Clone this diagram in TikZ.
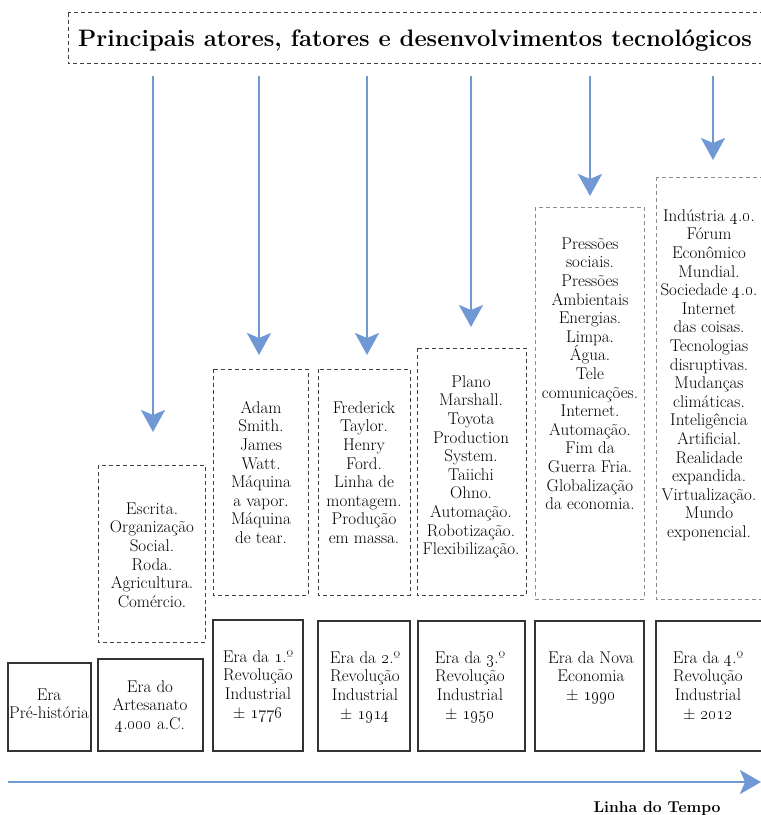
\documentclass[tikz,border=0pt]{standalone}
\usetikzlibrary{arrows.meta}
\definecolor{arrowblue}{RGB}{112,152,212}
\newcommand{\osn}[1]{\oldstylenums{#1}}
\begin{document}
\begin{tikzpicture}[x=1pt,y=-1pt,
  txt/.style={align=center,inner sep=0pt,anchor=north,
    font=\fontsize{17}{18.6}\selectfont},
  erabox/.style={draw=black!80,line width=1.1pt},
  factbox/.style={draw=black!75,line width=0.9pt,dash pattern=on 4pt off 3pt},
  lightbox/.style={draw=black!45,line width=0.9pt,dash pattern=on 4pt off 3pt},
  downarrow/.style={draw=arrowblue,line width=2.6pt,
    -{Stealth[length=22pt,width=24pt,inset=5pt]}},
  timearrow/.style={draw=arrowblue,line width=2.8pt,
    -{Stealth[length=21pt,width=24pt,inset=5pt]}}]
\useasboundingbox (0,0) rectangle (761,815);

% title
\draw[factbox] (68,12.5) rectangle (764,63.5);
\node[inner sep=0pt,anchor=base,font=\fontsize{23.8}{28}\selectfont\bfseries]
  (title) at (415,46) {Principais atores, fatores e desenvolvimentos tecnológicos};

% factor boxes
\draw[factbox] (98,465) rectangle (205,642);
\draw[factbox] (213,369) rectangle (308,595);
\draw[factbox] (318,369) rectangle (410,595);
\draw[factbox] (417,348) rectangle (526,595);
\draw[lightbox] (535,207) rectangle (644,599);
\draw[lightbox] (656,177) rectangle (764,599);

\node[txt] (fa) at (152,501) {\strut Escrita.\\Organização\\Social.\\Roda.\\Agricultura.\\Comércio.};
\node[txt] (fb) at (261,400) {\strut Adam\\Smith.\\James\\Watt.\\Máquina\\a vapor.\\Máquina\\de tear.};
\node[txt] (fc) at (364,400) {\strut Frederick\\Taylor.\\Henry\\Ford.\\Linha de\\montagem.\\Produção\\em massa.};
\node[txt] (fd) at (471,374) {\strut Plano\\Marshall.\\Toyota\\Production\\System.\\Taiichi\\Ohno.\\Automação.\\Robotização.\\Flexibilização.};
\node[txt] (fe) at (590,236) {\strut Pressões\\sociais.\\Pressões\\Ambientais\\Energias.\\Limpa.\\Água.\\Tele\\comunicações.\\Internet.\\Automação.\\Fim da\\Guerra Fria.\\Globalização\\da economia.};
\node[txt] (ff) at (709,208) {\strut Indústria \osn{4}.\osn{0}.\\Fórum\\Econômico\\Mundial.\\Sociedade \osn{4}.\osn{0}.\\Internet\\das coisas.\\Tecnologias\\disruptivas.\\Mudanças\\climáticas.\\Inteligência\\Artificial.\\Realidade\\expandida.\\Virtualização.\\Mundo\\exponencial.};

% era boxes
\draw[erabox] (8,663) rectangle (91,751);
\draw[erabox] (98,659) rectangle (203,751);
\draw[erabox] (213,620) rectangle (303,751);
\draw[erabox] (318,621) rectangle (410,751);
\draw[erabox] (418,621) rectangle (525,751);
\draw[erabox] (535,621) rectangle (644,751);
\draw[erabox] (656,621) rectangle (764,751);

\node[txt] (e1) at (49,687) {\strut Era\\Pré-história};
\node[txt] (e2) at (150,679) {\strut Era do\\Artesanato\\\osn{4}.\osn{000} a.C.};
\node[txt] (e3) at (258,649) {\strut Era da \osn{1}.º\\Revolução\\Industrial\\± \osn{1776}};
\node[txt] (e4) at (365,650) {\strut Era da \osn{2}.º\\Revolução\\Industrial\\± \osn{1914}};
\node[txt] (e5) at (470,650) {\strut Era da \osn{3}.º\\Revolução\\Industrial\\± \osn{1950}};
\node[txt] (e6) at (591,650) {\strut Era da Nova\\Economia\\± \osn{1990}};
\node[txt] (e7) at (708,650) {\strut Era da \osn{4}.º\\Revolução\\Industrial\\± \osn{2012}};

% arrows from the title down to each era
\coordinate (s1) at (153,76);  \coordinate (t1) at (153,432);
\coordinate (s2) at (259,76);  \coordinate (t2) at (259,355);
\coordinate (s3) at (367,76);  \coordinate (t3) at (367,355);
\coordinate (s4) at (471,76);  \coordinate (t4) at (471,327);
\coordinate (s5) at (590,76);  \coordinate (t5) at (590,196);
\coordinate (s6) at (713,76);  \coordinate (t6) at (713,160);
\foreach \i in {1,...,6} \draw[downarrow] (s\i) -- (t\i);

% time line
\coordinate (ls) at (8,782);
\coordinate (le) at (761,782);
\draw[timearrow] (ls) -- (le);
\node[inner sep=0pt,anchor=base,font=\fontsize{15.7}{18}\selectfont\bfseries]
  (tl) at (657,812) {Linha do Tempo};
\end{tikzpicture}
\end{document}
